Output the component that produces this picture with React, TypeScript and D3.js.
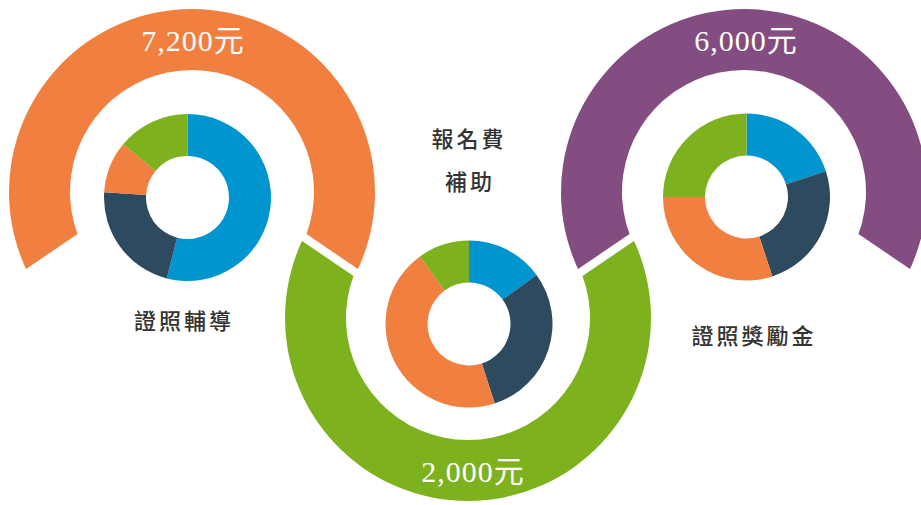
import React, { useEffect, useRef } from "react";
import * as d3 from "d3";

// values
const amounts = ["7,200元", "2,000元", "6,000元"];
const labels = [["證照輔導"], ["報名費", "補助"], ["證照獎勵金"]];
const ringColors = ["#F07F40", "#7DB21E", "#834D81"];
const sliceColors = ["#0095CF", "#2E4A5E", "#F07F40", "#7DB21E"];
const sharesLeft = [54, 22, 10, 14];
const sharesMiddle = [15, 30, 45, 10];
const sharesRight = [20, 25, 30, 25];

const W = 921;
const H = 505;

type Pt = [number, number];

export default function App() {
    const svgRef = useRef<SVGSVGElement | null>(null);

    useEffect(() => {
        if (!svgRef.current) return;
        const svg = d3.select(svgRef.current);
        svg.selectAll("*").remove();

        const rOut = 183;
        const rIn = 122;
        const centers: Pt[] = [[192, 192], [468, 318], [744, 192]];
        const donutCenters: Pt[] = [[187.5, 197.5], [469, 324], [746.5, 197]];
        const slope = 0.68; // tilt of the cuts between rings
        const gap = 5;

        const mid = (a: Pt, b: Pt): Pt => [(a[0] + b[0]) / 2, (a[1] + b[1]) / 2];
        const line = (p: Pt, s: number) => (x: number) => p[1] + s * (x - p[0]);
        const [c0, c1, c2] = centers;
        const m1 = mid(c0, c1);
        const m2 = mid(c1, c2);
        const j1 = line(m1, slope);
        const j2 = line(m2, -slope);
        const jl = line([2 * c0[0] - m1[0], m1[1]], -slope);
        const jr = line([2 * c2[0] - m2[0], m2[1]], slope);

        const x0 = -50, x1 = W + 50;
        const clips: Pt[][] = [
            [[x0, jl(x0) - gap], [c0[0], j1(c0[0]) - gap], [x1, j1(x1) - gap], [x1, -50], [x0, -50]],
            [[x0, j1(x0) + gap], [c1[0], j1(c1[0]) + gap], [x1, j2(x1) + gap], [x1, H + 50], [x0, H + 50]],
            [[x0, j2(x0) - gap], [c2[0], j2(c2[0]) - gap], [x1, jr(x1) - gap], [x1, -50], [x0, -50]],
        ];
        const spans: [number, number][] = [[-140, 140], [40, 320], [-140, 140]];

        const defs = svg.append("defs");
        clips.forEach((poly, i) => {
            defs.append("clipPath")
                .attr("id", `ring-clip-${i}`)
                .append("path")
                .attr("d", d3.line()(poly) + "Z");
        });

        const ringArc = d3.arc<{ s: number; e: number }>()
            .innerRadius(rIn)
            .outerRadius(rOut)
            .startAngle((d) => (d.s * Math.PI) / 180)
            .endAngle((d) => (d.e * Math.PI) / 180);

        centers.forEach((c, i) => {
            svg.append("g")
                .attr("clip-path", `url(#ring-clip-${i})`)
                .append("path")
                .attr("transform", `translate(${c[0]},${c[1]})`)
                .attr("d", ringArc({ s: spans[i][0], e: spans[i][1] }) as string)
                .attr("fill", ringColors[i]);
        });

        // donuts
        const pie = d3.pie<number>().sort(null).value((d) => d);
        const donutArc = d3.arc<d3.PieArcDatum<number>>().innerRadius(41.5).outerRadius(83.5);
        [sharesLeft, sharesMiddle, sharesRight].forEach((shares, i) => {
            const g = svg.append("g")
                .attr("transform", `translate(${donutCenters[i][0]},${donutCenters[i][1]})`);
            g.selectAll("path")
                .data(pie(shares))
                .enter()
                .append("path")
                .attr("d", donutArc)
                .attr("fill", (_, k) => sliceColors[k]);
        });

        // amounts on the rings
        const midR = (rOut + rIn) / 2;
        const amountDx = [1, 5, 2];
        amounts.forEach((t, i) => {
            const c = centers[i];
            const y = i === 1 ? c[1] + midR : c[1] - midR;
            svg.append("text")
                .attr("x", c[0] + amountDx[i])
                .attr("y", y + 11)
                .attr("text-anchor", "middle")
                .attr("fill", "#ffffff")
                .style("font-family", "'Liberation Serif', 'Noto Sans CJK TC', serif")
                .style("font-size", "30px")
                .style("letter-spacing", "1px")
                .text(t);
        });

        // category labels
        const labelPos: Pt[][] = [[[184, 329]], [[469, 147], [470, 190]], [[754, 344]]];
        labels.forEach((lines, i) => {
            lines.forEach((t, k) => {
                svg.append("text")
                    .attr("x", labelPos[i][k][0])
                    .attr("y", labelPos[i][k][1])
                    .attr("text-anchor", "middle")
                    .attr("fill", "#333333")
                    .style("font-family", "'Noto Sans CJK TC', sans-serif")
                    .style("font-size", "22px")
                    .style("font-weight", 500)
                    .style("letter-spacing", "3px")
                    .text(t);
            });
        });
    }, []);

    return (
        <svg
            ref={svgRef}
            width={W}
            height={H}
            style={{ position: "absolute", left: 0, top: 0, background: "#fff" }}
        />
    );
}
